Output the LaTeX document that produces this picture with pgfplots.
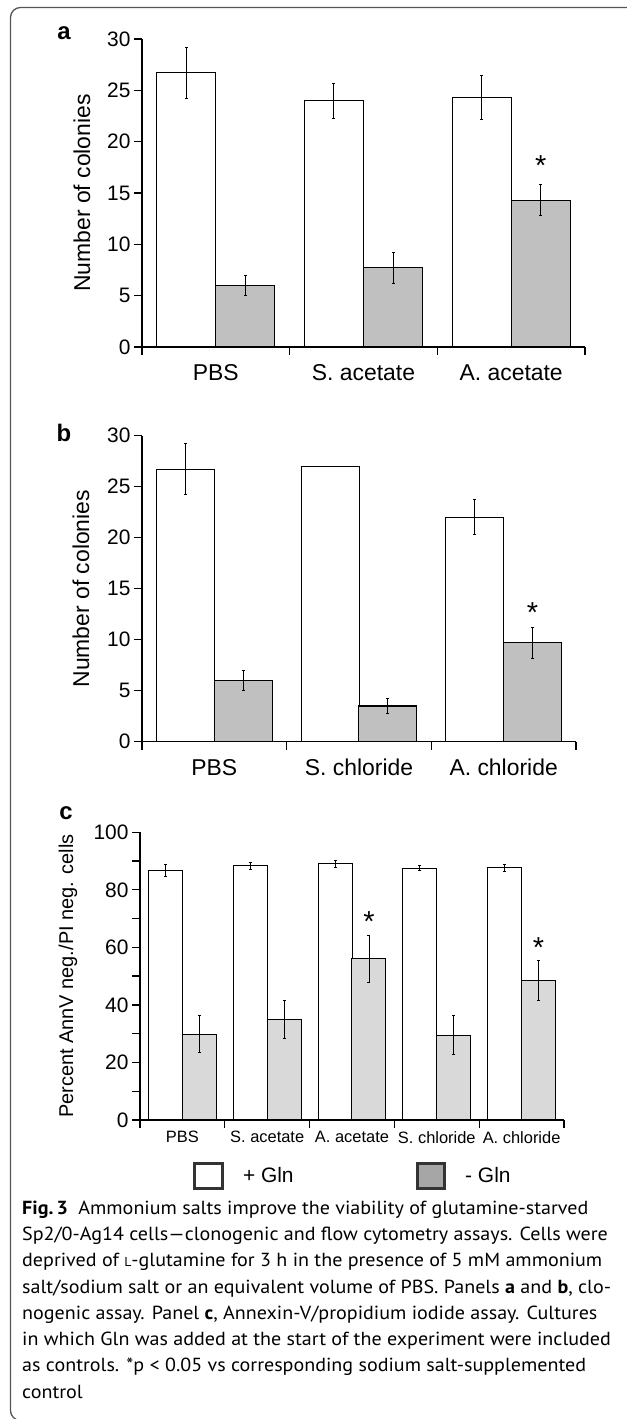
\documentclass[border=0pt]{standalone}
\usepackage{pgfplots}
\pgfplotsset{compat=1.18}
\usepackage{pgfplotstable}
\usepackage{fontspec}
\setmainfont{Liberation Sans}
\newfontfamily\capfont[FakeStretch=1.06]{PT Sans}

\definecolor{barA}{HTML}{C0C0C0}
\definecolor{barC}{HTML}{D9D9D9}
\definecolor{legG}{HTML}{A6A6A6}
\definecolor{frm}{HTML}{555555}

\newcommand{\fs}[1]{\fontsize{#1}{#1}\selectfont}

% panel a: clonogenic, acetate salts
\pgfplotstableread{
x w we g ge
0 26.7 2.5 6.0 1.0
1 24.0 1.7 7.7 1.5
2 24.3 2.1 14.3 1.5
}\dataA
% panel b: clonogenic, chloride salts
\pgfplotstableread{
x w we g ge
0 26.7 2.5 6.0 1.0
1 27.0 0.0 3.5 0.7
2 22.0 1.7 9.7 1.5
}\dataB
% panel c: AnnV/PI
\pgfplotstableread{
x w we g ge
0 86.8 2.1 29.8 6.5
1 88.3 1.2 34.8 6.6
2 89.0 1.1 56.0 8.3
3 87.5 0.9 29.5 6.7
4 87.7 1.2 48.6 7.0
}\dataC

\pgfplotsset{
  panel/.style={
    scale only axis, anchor=south west,
    axis lines=left, axis line style={-, line width=1.3bp},
    tick align=outside, major tick length=8bp, minor tick length=8bp,
    tick style={line width=1.3bp, black},
    ymin=0, xmin=-0.5,
    xticklabels={},
    extra x tick style={tick style={draw=none}},
    /pgf/number format/assume math mode=true,
    clip=false,
  },
  ebar/.style={
    ybar, bar shift=0pt, draw=black, line width=1.1bp,
    error bars/y dir=both, error bars/y explicit,
    error bars/error bar style={line width=1bp},
    error bars/error mark options={rotate=90, mark size=1.5bp, line width=1bp},
  },
  star/.style={only marks, mark=none, nodes near coords={*},
    every node near coord/.append style={anchor=center, yshift=-0.22em, font=\fs{29}}},
}

\begin{document}
\begin{tikzpicture}
\useasboundingbox (0bp,0bp) rectangle (627bp,1419bp);
\fill[white] (0bp,0bp) rectangle (627bp,1419bp);
\draw[frm, line width=1.3bp, rounded corners=10bp] (660bp,1411.5bp) -- (10.5bp,1411.5bp) -- (10.5bp,-1.5bp) -- (60bp,-1.5bp);

% ---------- panel a ----------
\begin{axis}[panel, at={(142bp,1072bp)}, anchor=south west, width=443bp, height=308bp,
  xmax=2.5, ymax=30, ytick={0,5,...,30},
  xtick={-0.5,0.5,1.5,2.5},
  extra x ticks={0,1,2}, extra x tick labels={PBS,S. acetate,A. acetate},
  extra x tick style={tick label style={font=\fs{23}, yshift=-6bp}},
  yticklabel style={font=\fs{21}},
  ylabel={Number of colonies},
  ylabel style={font=\fs{23}, at={(axis description cs:-0.1354,0.5)}, anchor=center},
]
\addplot[ebar, bar width=59bp, fill=white]
  table[x expr=\thisrow{x}-0.2, y=w, y error=we] {\dataA};
\addplot[ebar, bar width=59bp, fill=barA]
  table[x expr=\thisrow{x}+0.2, y=g, y error=ge] {\dataA};
\addplot[star] coordinates {(2.2,17.9)};
\end{axis}
\node[font=\bfseries\fs{24}] at (64bp,1386bp) {a};

% ---------- panel b ----------
\begin{axis}[panel, at={(142bp,677.3bp)}, anchor=south west, width=434bp, height=306bp,
  xmax=2.5, ymax=30, ytick={0,5,...,30},
  xtick={-0.5,0.5,1.5,2.5},
  extra x ticks={0,1,2}, extra x tick labels={PBS,S. chloride,A. chloride},
  extra x tick style={tick label style={font=\fs{23}, yshift=-6bp}},
  yticklabel style={font=\fs{21}},
  ylabel={Number of colonies},
  ylabel style={font=\fs{23}, at={(axis description cs:-0.1406,0.5)}, anchor=center},
]
\addplot[ebar, bar width=58bp, fill=white]
  table[x expr=\thisrow{x}-0.2, y=w, y error=we] {\dataB};
\addplot[ebar, bar width=58bp, fill=barA]
  table[x expr=\thisrow{x}+0.2, y=g, y error=ge] {\dataB};
\addplot[star] coordinates {(2.2,12.9)};
\end{axis}
\node[font=\bfseries\fs{24}] at (64bp,986bp) {b};

% ---------- panel c ----------
\begin{axis}[panel, at={(140bp,299bp)}, anchor=south west, width=424bp, height=287.7bp,
  xmax=4.5, ymax=100, ytick={0,20,...,100}, minor ytick={10,30,...,90},
  xtick={-0.5,0.5,...,4.5},
  extra x ticks={0,1,2,3,4},
  extra x tick labels={PBS,S. acetate,A. acetate,S. chloride,A. chloride},
  extra x tick style={tick label style={font=\fs{16.5}}},
  yticklabel style={font=\fs{21}},
  ylabel={Percent AnnV neg./PI neg. cells},
  ylabel style={font=\fs{20}, at={(axis description cs:-0.1698,0.5)}, anchor=center},
  legend style={at={(axis description cs:0.5,-0.195)}, anchor=center, draw=none, fill=none,
    font=\fs{21}, legend columns=2, inner sep=0pt, nodes={inner sep=0pt},
    /tikz/every odd column/.append style={column sep=19bp},
    /tikz/every even column/.append style={column sep=122bp}},
]
\addlegendimage{legend image code/.code={\draw[line width=3bp, draw=black!80, fill=white] (0bp,-12.7bp) rectangle (27.6bp,12.7bp);}}
\addlegendentry{+ Gln}
\addlegendimage{legend image code/.code={\draw[line width=3bp, draw=black!80, fill=legG] (0bp,-12.7bp) rectangle (27.6bp,12.7bp);}}
\addlegendentry{- Gln}
\addplot[ebar, bar width=34bp, fill=white, line width=1bp,
  error bars/error bar style={line width=0.9bp}]
  table[x expr=\thisrow{x}-0.2, y=w, y error=we] {\dataC};
\addplot[ebar, bar width=34bp, fill=barC, line width=1bp,
  error bars/error bar style={line width=0.9bp}]
  table[x expr=\thisrow{x}+0.2, y=g, y error=ge] {\dataC};
\addplot[star] coordinates {(2.2,69.9) (4.2,60.6)};
\end{axis}
\node[font=\bfseries\fs{24}] at (66bp,606bp) {c};

% ---------- caption ----------
\begin{scope}[every node/.style={anchor=base west, inner sep=0pt, font=\capfont\fs{19}}]
\node at (22bp,204.4bp) {{\bfseries Fig.\,3}\hspace{0.55em}Ammonium salts improve the viability of glutamine-starved};
\node at (22bp,178.2bp) {Sp2/0-Ag14 cells—clonogenic and flow cytometry assays. Cells were};
\node at (22bp,152.0bp) {deprived of {\fs{13}L}-glutamine for 3 h in the presence of 5 mM ammonium};
\node at (22bp,125.8bp) {salt/sodium salt or an equivalent volume of PBS. Panels \textbf{a} and \textbf{b}, clo-};
\node at (22bp,99.6bp) {nogenic assay. Panel \textbf{c}, Annexin-V/propidium iodide assay. Cultures};
\node at (22bp,73.4bp) {in which Gln was added at the start of the experiment were included};
\node at (22bp,47.2bp) {as controls. *p < 0.05 vs corresponding sodium salt-supplemented};
\node at (22bp,21.0bp) {control};
\end{scope}
\end{tikzpicture}
\end{document}
